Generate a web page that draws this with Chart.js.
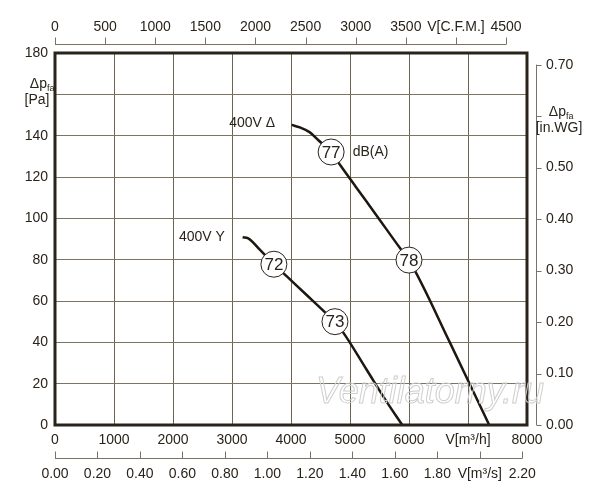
<!DOCTYPE html>
<html>
<head>
<meta charset="utf-8">
<script src="https://cdn.jsdelivr.net/npm/chart.js@4.4.1/dist/chart.umd.min.js"></script>
<style>
  html, body { margin: 0; padding: 0; background: #fff; }
  #wrap { width: 600px; height: 500px; }
</style>
</head>
<body>
<div id="wrap"><canvas id="fan"></canvas></div>
<script>
// fan curves: V [m3/h] vs dp_fa [Pa]
const deltaFlow = [4010, 4150, 4320, 4460, 4680, 4830, 5100, 5450, 5850, 6000, 6700, 7360];
const deltaPa   = [145.2, 144.0, 141.6, 137.9, 132.1, 125.9, 115.2, 101.4, 85.5, 79.8, 39.5, 0];

const starFlow = [3180, 3275, 3475, 3710, 3930, 4265, 4605, 4745, 4915, 5285, 5620, 5885];
const starPa   = [90.8, 90.3, 84.7, 77.8, 71.9, 62.9, 53.8, 50.0, 43.5, 26.6, 11.3, 0];

// sound level markers dB(A)
const dbFlow   = [4680, 6000, 3710, 4745];
const dbPa     = [132.1, 79.8, 77.8, 50.0];
const dbLabels = ['77', '78', '72', '73'];

// tick values and labels
const flowTicks  = [0, 1000, 2000, 3000, 4000, 5000, 6000, 7000, 8000];
const flowLabels = ['0', '1000', '2000', '3000', '4000', '5000', '6000', 'V[m³/h]', '8000'];
const cfmTicks   = [0, 500, 1000, 1500, 2000, 2500, 3000, 3500, 4000, 4500];
const cfmLabels  = ['0', '500', '1000', '1500', '2000', '2500', '3000', '3500', 'V[C.F.M.]', '4500'];
const m3sTicks   = [0, 0.2, 0.4, 0.6, 0.8, 1.0, 1.2, 1.4, 1.6, 1.8, 2.0, 2.2];
const m3sLabels  = ['0.00', '0.20', '0.40', '0.60', '0.80', '1.00', '1.20', '1.40', '1.60', '1.80', 'V[m³/s]', '2.20'];
const paTicks    = [0, 20, 40, 60, 80, 100, 120, 140, 160, 180];
const paLabels   = ['0', '20', '40', '60', '80', '100', '120', '140', '', '180'];
const wgTicks    = [0, 0.1, 0.2, 0.3, 0.4, 0.5, 0.6, 0.7];
const wgLabels   = ['0.00', '0.10', '0.20', '0.30', '0.40', '0.50', '', '0.70'];

const FLOW_MAX = 8000, PA_MAX = 180;
const CFM = 1.69901, INWG = 249.089;

const ink = '#2a231b';
const font = { family: '"Liberation Sans", Arial, sans-serif', size: 14 };

function pts(xs, ys) { return xs.map((x, i) => ({ x: x, y: ys[i] })); }
function fixTicks(vals) { return scale => { scale.ticks = vals.map(v => ({ value: v })); }; }
function fromList(vals, labels) {
  return function(value) {
    const i = vals.findIndex(v => Math.abs(v - value) < 1e-6);
    return i < 0 ? '' : labels[i];
  };
}

// frame, secondary axis lines, titles and notes
const decor = {
  id: 'decor',
  afterDatasetsDraw(chart) {
    const { ctx, chartArea: a, scales } = chart;
    ctx.save();
    ctx.strokeStyle = ink;
    ctx.lineWidth = 3;
    ctx.strokeRect(a.left, a.top, a.right - a.left, a.bottom - a.top);

    ctx.strokeStyle = '#7a7264';
    ctx.lineWidth = 1;
    // top CFM axis
    const t = scales.xTop, ty = a.top - 8.5;
    ctx.beginPath();
    ctx.moveTo(t.getPixelForValue(cfmTicks[0]), ty);
    ctx.lineTo(t.getPixelForValue(cfmTicks[cfmTicks.length - 1]), ty);
    cfmTicks.forEach(v => { const px = Math.round(t.getPixelForValue(v)) + 0.5; ctx.moveTo(px, ty); ctx.lineTo(px, ty - 7); });
    ctx.stroke();
    // bottom m3/s axis
    const s = scales.xs, sy = a.bottom + 33.5;
    ctx.beginPath();
    ctx.moveTo(s.getPixelForValue(m3sTicks[0]), sy);
    ctx.lineTo(s.getPixelForValue(m3sTicks[m3sTicks.length - 1]), sy);
    m3sTicks.forEach(v => { const px = Math.round(s.getPixelForValue(v)) + 0.5; ctx.moveTo(px, sy); ctx.lineTo(px, sy - 7); });
    ctx.stroke();
    // right in.WG axis
    const r = scales.yR, rx = a.right + 9.5;
    ctx.beginPath();
    ctx.moveTo(rx, r.getPixelForValue(wgTicks[0]));
    ctx.lineTo(rx, r.getPixelForValue(wgTicks[wgTicks.length - 1]));
    wgTicks.forEach(v => { const py = Math.round(r.getPixelForValue(v)) + 0.5; ctx.moveTo(rx, py); ctx.lineTo(rx + 5, py); });
    ctx.stroke();

    ctx.fillStyle = ink;
    ctx.textBaseline = 'middle';
    const x = scales.x, y = scales.y;
    const f = (sz, style) => (style || '') + ' ' + sz + 'px ' + font.family;

    // axis titles
    function dp(cx, cy) {
      ctx.font = f(14);
      ctx.textAlign = 'right';
      ctx.fillText('Δp', cx, cy);
      ctx.font = f(9);
      ctx.textAlign = 'left';
      ctx.fillText('fa', cx, cy + 4);
    }
    dp(47, y.getPixelForValue(160) - 10);
    ctx.font = f(14);
    ctx.textAlign = 'center';
    ctx.fillText('[Pa]', 37, y.getPixelForValue(160) + 6);
    dp(566, r.getPixelForValue(0.6) - 4);
    ctx.font = f(14);
    ctx.textAlign = 'center';
    ctx.fillText('[in.WG]', 559, r.getPixelForValue(0.6) + 12);

    // curve notes
    ctx.font = f(14);
    ctx.textAlign = 'right';
    ctx.fillText('400V Δ', x.getPixelForValue(3730), y.getPixelForValue(146.3));
    ctx.fillText('400V Y', x.getPixelForValue(2880), y.getPixelForValue(91.1));
    ctx.textAlign = 'left';
    ctx.fillText('dB(A)', x.getPixelForValue(5046), y.getPixelForValue(132.1));

    // dB markers
    const meta = chart.getDatasetMeta(2);
    ctx.font = f(17);
    ctx.textAlign = 'center';
    meta.data.forEach((p, i) => ctx.fillText(dbLabels[i], p.x, p.y + 1));

    // watermark
    ctx.font = f(36, 'italic');
    ctx.textAlign = 'left';
    ctx.strokeStyle = '#cfcfcf';
    ctx.lineWidth = 1;
    ctx.strokeText('Ventilatorny.ru', 316, 393);
    ctx.restore();
  }
};

new Chart(document.getElementById('fan'), {
  type: 'line',
  data: {
    datasets: [
      { label: '400V Δ', order: 2, data: pts(deltaFlow, deltaPa), borderColor: '#1e1710', borderWidth: 2.5, pointRadius: 0, cubicInterpolationMode: 'monotone', fill: false },
      { label: '400V Y', order: 2, data: pts(starFlow, starPa), borderColor: '#1e1710', borderWidth: 2.5, pointRadius: 0, cubicInterpolationMode: 'monotone', fill: false },
      { label: 'dB(A)', order: 1, data: pts(dbFlow, dbPa), showLine: false, pointRadius: 13, pointBackgroundColor: '#fff', pointBorderColor: '#2a231b', pointBorderWidth: 1 }
    ]
  },
  options: {
    responsive: true,
    maintainAspectRatio: false,
    animation: false,
    events: [],
    layout: { padding: 0 },
    plugins: { legend: { display: false }, tooltip: { enabled: false } },
    scales: {
      x: {
        type: 'linear', position: 'bottom', min: 0, max: FLOW_MAX, weight: 0,
        afterBuildTicks: fixTicks(flowTicks),
        afterFit: sc => { sc.height = 25; },
        grid: { color: '#6b6452', lineWidth: 1, drawTicks: false },
        border: { display: false },
        ticks: { padding: 7, font: font, color: ink, maxRotation: 0, autoSkip: false, callback: fromList(flowTicks, flowLabels) }
      },
      xs: {
        type: 'linear', position: 'bottom', min: 0, max: FLOW_MAX / 3600, weight: 1,
        afterBuildTicks: fixTicks(m3sTicks),
        afterFit: sc => { sc.height = 50; },
        grid: { display: false, drawTicks: false },
        border: { display: false },
        ticks: { padding: 16, font: font, color: ink, maxRotation: 0, autoSkip: false, callback: fromList(m3sTicks, m3sLabels) }
      },
      xTop: {
        type: 'linear', position: 'top', min: 0, max: FLOW_MAX / CFM,
        afterBuildTicks: fixTicks(cfmTicks),
        afterFit: sc => { sc.height = 53; },
        grid: { display: false, drawTicks: false },
        border: { display: false },
        ticks: { padding: 17, font: font, color: ink, maxRotation: 0, autoSkip: false, callback: fromList(cfmTicks, cfmLabels) }
      },
      y: {
        type: 'linear', position: 'left', min: 0, max: PA_MAX,
        afterBuildTicks: fixTicks(paTicks),
        afterFit: sc => { sc.width = 55; },
        grid: { color: '#7b7465', lineWidth: 1, drawTicks: false },
        border: { display: false },
        ticks: { padding: 7, font: font, color: ink, autoSkip: false, callback: fromList(paTicks, paLabels) }
      },
      yR: {
        type: 'linear', position: 'right', min: 0, max: PA_MAX / INWG,
        afterBuildTicks: fixTicks(wgTicks),
        afterFit: sc => { sc.width = 73; },
        grid: { display: false, drawTicks: false },
        border: { display: false },
        ticks: { padding: 19, font: font, color: ink, autoSkip: false, callback: fromList(wgTicks, wgLabels) }
      }
    }
  },
  plugins: [decor]
});
</script>
</body>
</html>
